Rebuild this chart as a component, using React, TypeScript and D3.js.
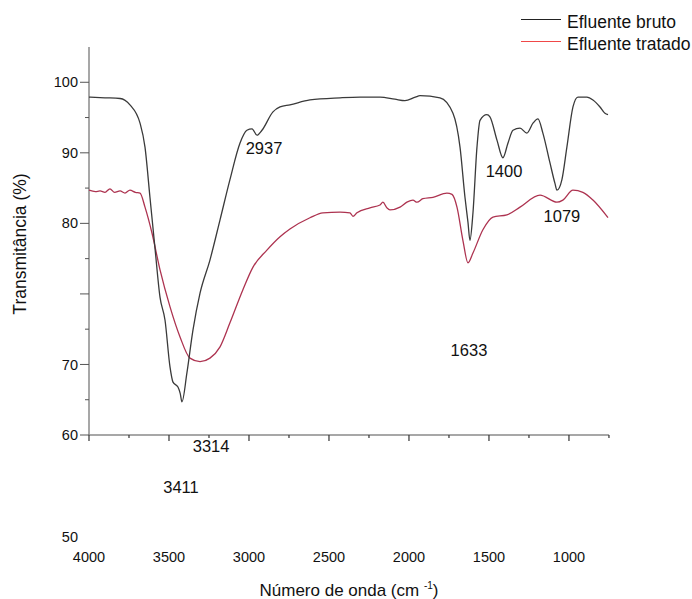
import React from 'react';
import * as d3 from 'd3';

// FTIR spectra: wavenumber (cm-1) vs transmittance (%)
const bruto: [number, number][] = [
  [4000, 97.9], [3900, 97.8], [3806, 97.7], [3744, 96.8], [3681, 94.2], [3650, 90.8],
  [3619, 83.7], [3588, 76.6], [3556, 69.5], [3525, 66.3], [3494, 59.7], [3475, 57.5],
  [3444, 56.8], [3430, 55.9], [3419, 54.7], [3388, 58.8], [3350, 64.9], [3306, 70.1],
  [3244, 74.8], [3181, 80.5], [3119, 86.2], [3056, 91.4], [3013, 93.2], [2981, 93.4],
  [2950, 92.5], [2919, 93.2], [2850, 95.8], [2806, 96.5], [2744, 96.8], [2619, 97.5],
  [2431, 97.8], [2306, 97.9], [2181, 97.9], [2088, 97.6], [2025, 97.4], [1960, 97.9],
  [1931, 98.1], [1806, 97.8], [1725, 95.6], [1681, 90.8], [1650, 83.7], [1631, 80.1],
  [1619, 77.6], [1600, 81.5], [1575, 90.8], [1556, 94.6], [1513, 95.4], [1494, 95.1],
  [1450, 91.8], [1413, 89.3], [1381, 91.4], [1350, 93.2], [1306, 93.5], [1263, 92.8],
  [1225, 94.2], [1194, 94.8], [1163, 92.8], [1119, 88.6], [1088, 85.7], [1075, 84.7],
  [1044, 86.2], [1013, 90.8], [975, 96.5], [944, 97.9], [888, 97.9], [850, 97.5],
  [806, 96.5], [775, 95.6], [756, 95.4],
];

const tratado: [number, number][] = [
  [4000, 84.7], [3960, 84.5], [3931, 84.6], [3900, 84.4], [3869, 84.9], [3840, 84.4],
  [3806, 84.6], [3775, 84.3], [3744, 84.7], [3710, 84.4], [3681, 84.3], [3650, 82.3],
  [3606, 78.6], [3556, 73.4], [3494, 68.2], [3431, 63.9], [3369, 60.9], [3306, 60.4],
  [3244, 60.9], [3181, 62.5], [3119, 65.9], [3038, 70.6], [2975, 73.8], [2888, 76.2],
  [2806, 78.1], [2744, 79.2], [2619, 80.8], [2538, 81.5], [2431, 81.6], [2369, 81.5],
  [2350, 81.0], [2325, 81.5], [2244, 82.2], [2181, 82.6], [2163, 83.0], [2138, 82.2],
  [2119, 81.9], [2056, 82.3], [2013, 83.0], [1975, 83.3], [1950, 83.0], [1913, 83.5],
  [1850, 83.7], [1763, 84.3], [1731, 84.1], [1700, 82.3], [1663, 77.6], [1631, 74.4],
  [1600, 75.8], [1538, 79.1], [1475, 80.9], [1388, 81.2], [1306, 82.3], [1181, 84.0],
  [1075, 83.0], [1038, 83.3], [975, 84.7], [913, 84.4], [850, 83.3], [756, 80.8],
];

// peak labels placed as in the source figure (wavenumber, transmittance at baseline)
const peakLabels: { text: string; wn: number; t: number }[] = [
  { text: '2937', wn: 2906, t: 89.8 },
  { text: '1400', wn: 1406, t: 86.6 },
  { text: '1079', wn: 1044, t: 80.2 },
  { text: '1633', wn: 1625, t: 61.2 },
  { text: '3314', wn: 3237, t: 47.6 },
  { text: '3411', wn: 3425, t: 41.8 },
];

// y tick labels as printed (the label layer is offset from the ticks in the source)
const yLabels: { text: string; v: number }[] = [
  { text: '100', v: 100 }, { text: '90', v: 90 }, { text: '80', v: 80 },
  { text: '70', v: 60 }, { text: '60', v: 50 }, { text: '50', v: 35.5 },
];
const xLabels = [4000, 3500, 3000, 2500, 2000, 1500, 1000];

const width = 692;
const height = 599;
const margin = { left: 89, right: 84, top: 47, bottom: 164 };
const font = '"Liberation Sans", Arial, sans-serif';

export default function App() {
  const x = d3.scaleLinear().domain([4000, 756]).range([margin.left, width - margin.right]);
  const y = d3.scaleLinear().domain([50, 105]).range([height - margin.bottom, margin.top]);
  const line = d3.line<[number, number]>().x(d => x(d[0])).y(d => y(d[1])).curve(d3.curveMonotoneX);

  const yTicks = d3.range(50, 105, 5);
  const xTicks = d3.range(4000, 700, -250);
  const axisY = y(50);

  return (
    <svg width={width} height={height} style={{ position: 'absolute', left: 0, top: 0, background: '#fff' }} fontFamily={font}>
      {/* axes */}
      <line x1={margin.left} x2={margin.left} y1={margin.top} y2={axisY} stroke="#8a8a8a" strokeWidth={1.5} />
      <line x1={margin.left} x2={x(750)} y1={axisY} y2={axisY} stroke="#8a8a8a" strokeWidth={1.5} />
      {yTicks.map(v => (
        <line key={'yt' + v} x1={margin.left - (v % 10 === 0 ? 9 : 4)} x2={margin.left} y1={y(v)} y2={y(v)} stroke="#555" strokeWidth={1} />
      ))}
      {xTicks.map(v => (
        <line key={'xt' + v} x1={x(v)} x2={x(v)} y1={axisY} y2={axisY + (v % 500 === 0 ? 6 : 3)} stroke="#333" strokeWidth={1.2} />
      ))}
      {yLabels.map(l => (
        <text key={'yl' + l.text} x={78} y={y(l.v)} dy="0.35em" textAnchor="end" fontSize={14.5} fill="#111">{l.text}</text>
      ))}
      {xLabels.map(v => (
        <text key={'xl' + v} x={x(v)} y={axisY + 127} textAnchor="middle" fontSize={14.5} fill="#111">{v}</text>
      ))}

      {/* spectra */}
      <path d={line(tratado) ?? ''} fill="none" stroke="#ad3350" strokeWidth={1.3} />
      <path d={line(bruto) ?? ''} fill="none" stroke="#3a3a3a" strokeWidth={1.3} />

      {peakLabels.map(p => (
        <text key={'p' + p.text} x={x(p.wn)} y={y(p.t)} textAnchor="middle" fontSize={16.5} fill="#111">{p.text}</text>
      ))}

      {/* axis titles */}
      <text transform={`translate(26,244) rotate(-90)`} textAnchor="middle" fontSize={17.5} fill="#111">Transmitância (%)</text>
      <text x={349} y={596} textAnchor="middle" fontSize={17} fill="#111">
        Número de onda (cm <tspan fontSize={10} dy={-7}>-1</tspan><tspan dy={7}>)</tspan>
      </text>

      {/* legend */}
      <line x1={521} x2={561} y1={19.5} y2={19.5} stroke="#222" strokeWidth={1.2} />
      <text x={567} y={28} fontSize={17.5} fill="#111">Efluente bruto</text>
      <line x1={521} x2={561} y1={41.5} y2={41.5} stroke="#f04848" strokeWidth={1.2} />
      <text x={567} y={50} fontSize={17.5} fill="#111">Efluente tratado</text>
    </svg>
  );
}
